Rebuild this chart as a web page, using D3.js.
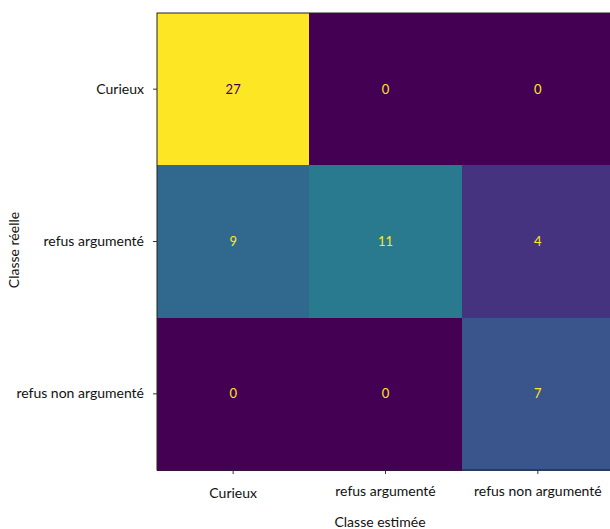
<!DOCTYPE html>
<html>
<head>
<meta charset="utf-8">
<script src="https://d3js.org/d3.v7.min.js"></script>
<style>
  body { margin: 0; background: #fff; }
  text { font-family: Lato, "Open Sans", sans-serif; }
</style>
</head>
<body>
<script>
// classes and counts of the confusion matrix
var classes = ["Curieux", "refus argumenté", "refus non argumenté"];
var matrix = [
  [27, 0, 0],
  [9, 11, 4],
  [0, 0, 7]
];
var x_title = "Classe estimée";
var y_title = "Classe réelle";

var width = 610, height = 529;
var m_left = 157, m_top = 13, size = 457;

var svg = d3.select("body").append("svg")
  .attr("width", width)
  .attr("height", height);

var x = d3.scaleBand().domain(classes).range([m_left, m_left + size]);
var y = d3.scaleBand().domain(classes).range([m_top, m_top + size]);

var vmax = d3.max(matrix, function (r) { return d3.max(r); });
var color = d3.scaleSequential(d3.interpolateViridis).domain([0, vmax]);

var cells = [];
matrix.forEach(function (row, i) {
  row.forEach(function (v, j) {
    cells.push({ real: classes[i], est: classes[j], v: v });
  });
});

svg.selectAll("rect.cell")
  .data(cells)
  .enter()
  .append("rect")
  .attr("class", "cell")
  .attr("x", function (d) { return x(d.est); })
  .attr("y", function (d) { return y(d.real); })
  .attr("width", x.bandwidth() + 1)
  .attr("height", y.bandwidth() + 1)
  .attr("shape-rendering", "crispEdges")
  .attr("fill", function (d) { return color(d.v); });

svg.selectAll("text.val")
  .data(cells)
  .enter()
  .append("text")
  .attr("class", "val")
  .attr("x", function (d) { return x(d.est) + x.bandwidth() / 2; })
  .attr("y", function (d) { return y(d.real) + y.bandwidth() / 2; })
  .attr("dy", "0.35em")
  .attr("text-anchor", "middle")
  .style("font-size", "13px")
  .attr("fill", function (d) { return d.v > vmax / 2 ? color(0) : color(vmax); })
  .text(function (d) { return d.v; });

// spines
svg.append("rect")
  .attr("x", m_left).attr("y", m_top)
  .attr("width", size).attr("height", size)
  .attr("fill", "none")
  .attr("stroke", "#222")
  .attr("stroke-width", 1);

// x axis
var xa = svg.append("g")
  .attr("transform", "translate(0," + (m_top + size) + ")")
  .call(d3.axisBottom(x).tickSize(4).tickPadding(11));
xa.select(".domain").remove();
xa.selectAll("line").attr("stroke", "#333");
xa.selectAll("text")
  .style("font-size", "14px")
  .attr("fill", "#111")
  .attr("dy", function (d, i) { return i === 0 ? "0.95em" : "0.8em"; });

// y axis
var ya = svg.append("g")
  .attr("transform", "translate(" + m_left + ",0)")
  .call(d3.axisLeft(y).tickSize(4).tickPadding(9));
ya.select(".domain").remove();
ya.selectAll("line").attr("stroke", "#333");
ya.selectAll("text")
  .style("font-size", "14px")
  .attr("fill", "#111");

// axis titles
svg.append("text")
  .attr("x", 380).attr("y", 522)
  .attr("dy", "0.35em")
  .attr("text-anchor", "middle")
  .style("font-size", "14px")
  .attr("fill", "#111")
  .text(x_title);

svg.append("text")
  .attr("transform", "translate(14,250) rotate(-90)")
  .attr("dy", "0.35em")
  .attr("text-anchor", "middle")
  .style("font-size", "14px")
  .attr("fill", "#111")
  .text(y_title);
</script>
</body>
</html>
